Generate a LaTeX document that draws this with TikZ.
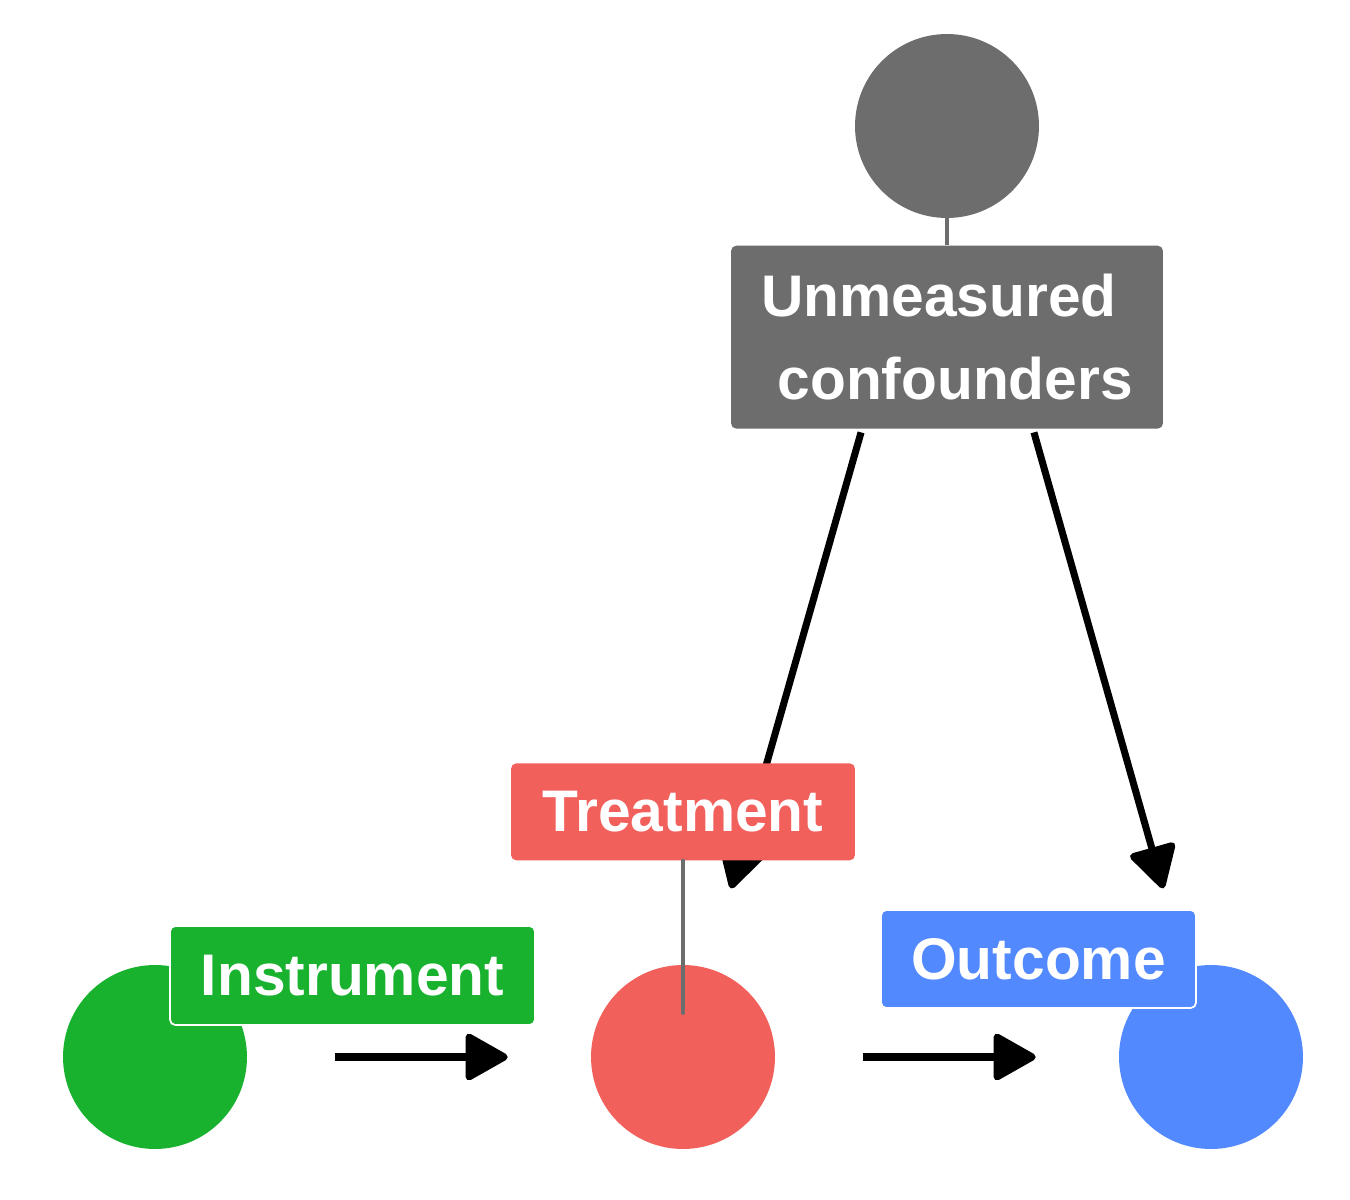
\documentclass[tikz,border=0pt]{standalone}
\usepackage{fontspec}
\setmainfont{Liberation Sans}
\usetikzlibrary{arrows.meta,positioning}
\definecolor{InstGreen}{HTML}{19B22F}
\definecolor{TreatRed}{HTML}{F2605C}
\definecolor{OutBlue}{HTML}{5289FF}
\definecolor{ConfGray}{HTML}{6D6D6D}

\begin{document}
\begin{tikzpicture}[x=0.02cm,y=-0.02cm,>={Triangle[length=0.92cm,width=1cm,round]}]
    \tikzset{
      dot/.style={circle,minimum size=3.68cm,inner sep=0pt},
      tag/.style={rounded corners=3pt,inner sep=0pt,text=white,align=center,
        font=\fontsize{33.4}{47.2}\selectfont\bfseries,minimum height=1.96cm},
      rim/.style={tag,draw=white,line width=1pt},
      pin/.style={ConfGray,line width=2.3pt},
      link/.style={->,line width=4pt,shorten >=1.66cm}
    }
    \useasboundingbox (0,0) rectangle (1350,1200);
    \node[dot,fill=ConfGray] (conf) at (947,126) {};
    \node[dot,fill=InstGreen] (inst) at (155,1057) {};
    \node[dot,fill=TreatRed] (treat) at (683,1057) {};
    \node[dot,fill=OutBlue] (out) at (1211,1057) {};
    \node[tag,fill=ConfGray,below=0.54cm of conf,minimum width=8.64cm,minimum height=3.66cm] (conflab)
      {Unmeasured\hspace*{0.28em}\\\hspace*{0.28em}confounders};
    \draw[pin] (conf) -- (conflab);
    % arrows go under the labels
    \draw[link,shorten <=2pt] ([xshift=-1.7cm]conflab.south) -- (treat);
    \draw[link,shorten <=2pt] ([xshift=1.72cm]conflab.south) -- (out);
    \draw[link,shorten <=1.76cm] (inst) -- (treat);
    \draw[link,shorten <=1.76cm] (treat) -- (out);
    \node[tag,fill=TreatRed,above=2.08cm of treat,minimum width=6.88cm,minimum height=1.94cm] (treatlab) {Treatment};
    \node[rim,fill=InstGreen,minimum width=7.3cm,minimum height=1.98cm] (instlab) at (352.5,975.5) {Instrument};
    \node[rim,fill=OutBlue,minimum width=6.3cm] (outlab) at (1038.5,959) {Outcome};
    \coordinate (treattip) at (683,1013);
    \draw[pin,line cap=round] (treatlab) -- (treattip);
\end{tikzpicture}
\end{document}
